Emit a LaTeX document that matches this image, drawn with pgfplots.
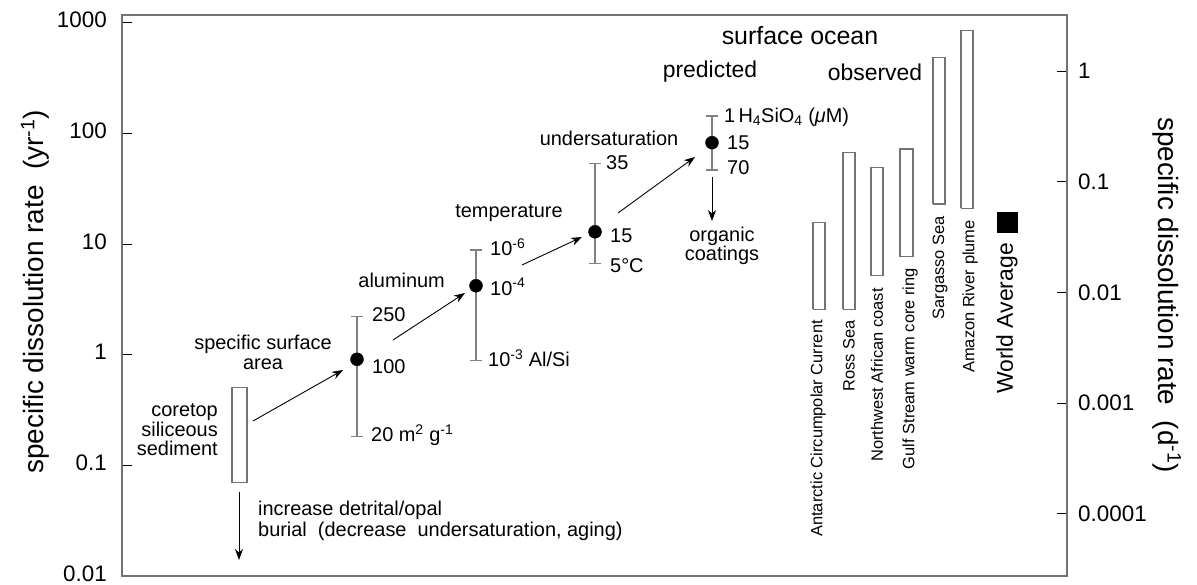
\documentclass[border=0pt]{standalone}
\usepackage{fontspec}
\setmainfont{Liberation Sans}
\usepackage{pgfplots}
\pgfplotsset{compat=1.18}
\usetikzlibrary{arrows.meta}
\newcommand{\fs}[1]{\fontsize{#1}{#1}\selectfont}
\newcommand{\fsb}[2]{\fontsize{#1}{#2}\selectfont}

\begin{document}
\begin{tikzpicture}
\useasboundingbox (0,0) rectangle (1197bp,585bp);
\begin{axis}[
  at={(122bp,9bp)}, anchor=south west,
  width=945bp, height=561bp, scale only axis,
  xmin=122, xmax=1067,
  ymode=log, ymin=0.01, ymax=1174,
  xtick=\empty, ytick pos=left, tick align=inside,
  ytick={0.01,0.1,1,10,100,1000},
  yticklabels={0.01,0.1,1,10,100,1000},
  yminorticks=false,
  major tick length=10bp,
  tick style={black, line width=1bp},
  axis line style={black!55, line width=1.2bp},
  yticklabel style={font=\fs{22.5}, inner sep=0pt, xshift=-15bp, yshift=2.5bp},
  clip=false,
]
% bars: coretop sediment and observed surface ocean ranges
\addplot[draw=black!55, line width=1.1bp, fill=white] coordinates {(232,0.0697) (247,0.0697) (247,0.504) (232,0.504) (232,0.0697)};
\addplot[draw=black!55, line width=1.1bp, fill=white] coordinates {(813,2.57) (825,2.57) (825,15.6) (813,15.6) (813,2.57)};
\addplot[draw=black!55, line width=1.1bp, fill=white] coordinates {(843,2.57) (855,2.57) (855,67.4) (843,67.4) (843,2.57)};
\addplot[draw=black!55, line width=1.1bp, fill=white] coordinates {(871,5.17) (883,5.17) (883,49.3) (871,49.3) (871,5.17)};
\addplot[draw=black!55, line width=1.1bp, fill=white] coordinates {(900,7.68) (913,7.68) (913,72.3) (900,72.3) (900,7.68)};
\addplot[draw=black!55, line width=1.1bp, fill=white] coordinates {(933,23.0) (945,23.0) (945,486) (933,486) (933,23.0)};
\addplot[draw=black!55, line width=1.1bp, fill=white] coordinates {(961,21.0) (973,21.0) (973,848) (961,848) (961,21.0)};
% error bars of predicted points
\addplot[black!50, line width=1.2bp, mark=-, mark size=6bp, mark options={solid}] coordinates {(357,0.182) (357,2.20)};
\addplot[black!50, line width=1.2bp, mark=-, mark size=6bp, mark options={solid}] coordinates {(476,0.883) (476,8.83)};
\addplot[black!50, line width=1.2bp, mark=-, mark size=6bp, mark options={solid}] coordinates {(595,6.70) (595,53.6)};
\addplot[black!50, line width=1.2bp, mark=-, mark size=6bp, mark options={solid}] coordinates {(712,46.7) (712,143.6)};
% predicted points
\addplot[only marks, mark=*, mark size=6.5bp, black] coordinates {(357,0.908) (476,4.20) (595,12.9) (712,82.4)};
% world average
\addplot[only marks, mark=square*, mark size=10bp, black] coordinates {(1007,15.8)};
\end{axis}
\begin{axis}[
  at={(122bp,9bp)}, anchor=south west,
  width=945bp, height=561bp, scale only axis,
  xmin=122, xmax=1067,
  ymode=log, ymin=0.0000273973, ymax=3.21644,
  axis x line=none, axis y line*=right, tick align=inside,
  ytick={0.0001,0.001,0.01,0.1,1},
  yticklabels={0.0001,0.001,0.01,0.1,1},
  yminorticks=false,
  major tick length=10bp,
  tick style={black, line width=1bp},
  axis line style={black!55, line width=1.2bp},
  yticklabel style={font=\fs{22.5}, inner sep=0pt, xshift=11bp},
]
\addplot[draw=none] coordinates {(500,0.1)};
\end{axis}
\begin{scope}[shift={(0,585bp)}, x=1bp, y=-1bp, font=\fs{20}]
 \node[rotate=90, font=\fs{28}] at (35,292) {specific dissolution rate\ \ (yr\textsuperscript{-1})};
 \node[rotate=-90, font=\fs{28}] at (1167,295) {specific dissolution rate\ \ (d\textsuperscript{-1})};
 \node[font=\fs{25}] at (800,36) {surface ocean};
 \node[font=\fs{23}] at (710,72) {predicted};
 \node[font=\fs{23}] at (875,72) {observed};
 \node[anchor=west, inner sep=0] at (724,117) {1\,H\textsubscript{4}SiO\textsubscript{4} (\textit{μ}M)};
 \node[anchor=west, inner sep=0] at (727,143) {15};
 \node[anchor=west, inner sep=0] at (727,168) {70};
 \node[align=center, font=\fsb{20}{19}] at (722,246) {organic\\coatings};
 \node at (609,138) {undersaturation};
 \node[anchor=west, inner sep=0] at (606,163) {35};
 \node[anchor=west, inner sep=0] at (610,236) {15};
 \node[anchor=west, inner sep=0] at (610,266) {5°C};
 \node at (509,213) {temperature};
 \node[anchor=west, inner sep=0] at (490,247) {10\textsuperscript{-6}};
 \node[anchor=west, inner sep=0] at (490,287) {10\textsuperscript{-4}};
 \node[anchor=west, inner sep=0] at (488,358) {10\textsuperscript{-3} Al/Si};
 \node[anchor=east, inner sep=0] at (445,280) {aluminum};
 \node[anchor=west, inner sep=0] at (372,315) {250};
 \node[anchor=west, inner sep=0] at (372,367) {100};
 \node[anchor=west, inner sep=0] at (371,435) {20 m\textsuperscript{2} g\textsuperscript{-1}};
 \node[align=center, font=\fsb{20}{20}] at (263,352) {specific surface\\area};
 \node[align=right, anchor=east, inner sep=0, font=\fsb{20}{19.5}] at (218,430) {coretop\\siliceous\\sediment};
 \node[align=left, anchor=west, inner sep=0, font=\fsb{20}{21.5}] at (258,521) {increase detrital/opal\\burial\ \ (decrease\ \ undersaturation, aging)};
 % rotated bar labels
 \node[rotate=90, anchor=east, inner sep=0, font=\fs{16.5}] at (818,320) {Antarctic Circumpolar Current};
 \node[rotate=90, anchor=east, inner sep=0, font=\fs{16.5}] at (849,320) {Ross Sea};
 \node[rotate=90, anchor=east, inner sep=0, font=\fs{16.5}] at (877,288) {Northwest African coast};
 \node[rotate=90, anchor=east, inner sep=0, font=\fs{16.5}] at (910,268) {Gulf Stream warm core ring};
 \node[rotate=90, anchor=east, inner sep=0, font=\fs{16.5}] at (940,216) {Sargasso Sea};
 \node[rotate=90, anchor=east, inner sep=0, font=\fs{16.5}] at (970,220) {Amazon River plume};
 \node[rotate=90, anchor=east, inner sep=0, font=\fs{23}] at (1007,243) {World Average};
 % arrows
 \begin{scope}[line width=0.9bp, -{Stealth[length=11bp, width=8bp]}]
  \draw (253,421) -- (343,370);
  \draw (393,340) -- (465,293);
  \draw (522,265) -- (582,237);
  \draw (618,213) -- (695,157);
  \draw (239,492) -- (239,560);
  \draw (712,177) -- (712,221);
 \end{scope}
\end{scope}
\end{tikzpicture}
\end{document}
